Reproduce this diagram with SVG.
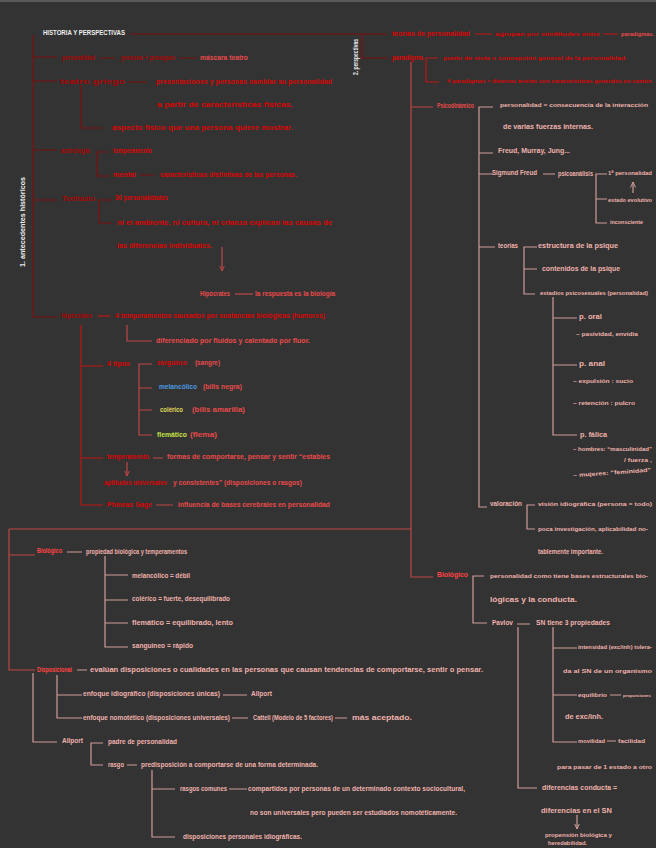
<svg xmlns="http://www.w3.org/2000/svg" width="656" height="848" viewBox="0 0 656 848">
<style>
text{font-family:"Liberation Sans",Arial,sans-serif;font-size:7.2px;font-weight:bold}
.wh{fill:#eeeeee;font-size:6.6px}
.dr{fill:#a80606}
.br{fill:#d80606}
.lr{fill:#e84a4a}
.pk{fill:#f0b2ac}
.bl{fill:#4c9be0}
.ye{fill:#e0dc5a}
.gr{fill:#c8e048}
.hd{fill:#ff4444;font-size:8px}
.sm{font-size:5.6px}
.xs{font-size:4.4px}
.c line,.c path{fill:none;stroke-width:1.2}
.ld{stroke:#7d0f0f}
.lb{stroke:#c01414}
.lm{stroke:#c04646}
.lp{stroke:#d09c98}
</style>
<defs>
<marker id="ad" viewBox="0 0 6 6" refX="5.5" refY="3" markerWidth="5" markerHeight="5" orient="auto"><path d="M0,0.5 L5.5,3 L0,5.5" fill="none" stroke="context-stroke" stroke-width="1"/></marker>
</defs>
<rect x="0" y="0" width="656" height="848" fill="#333333"/>
<rect x="0" y="0" width="656" height="2" fill="#5a5a5a"/>

<g id="connectors" class="c">
  <path class="ld" d="M130,34 H387 M362,34 V58 H388"/>
  <path class="ld" d="M33,35 V317 H57 M33,57 H57 M33,81 H57 M33,150 H57 M33,200 H57"/>
  <path class="ld" d="M100,58 H115 M179,58 H197 M128,82 H147 M81,85 V128 H103"/>
  <path class="ld" d="M108,152 H97 V176 H110 M140,175 H154"/>
  <path class="ld" d="M112,200 H99 V223 H112"/>
  <line class="lm" x1="222" y1="247" x2="222" y2="271" marker-end="url(#ad)"/>
  <path class="lm" d="M235,294 H253"/>
  <path class="lb" d="M98,316 H110"/>
  <path class="lm" d="M127,325 V341 H152"/>
  <path class="lb" d="M81,325 V505 H103 M81,366 H103 M81,458 H103"/>
  <path class="lm" d="M152,364 H139 V435 H152 M139,388 H152 M139,410 H152"/>
  <path class="lm" d="M153,458 H163 M156,505 H173"/>
  <line class="lm" x1="127" y1="462" x2="127" y2="476" marker-end="url(#ad)"/>
  <path class="lb" d="M475,34 H492 M603,34 H618"/>
  <path class="lb" d="M438,58 H426 V82 H439"/>
  <path class="lm" d="M411,62 V577 H433 M411,107 H433 M9,529 H411"/>
  <path class="lp" d="M493,107 H479 V507 H487 M479,153 H493 M479,174 H493 M479,247 H495"/>
  <path class="lp" d="M543,174 H555 M607,174 H596 V223 H607 M596,199 H607"/>
  <line class="lp" x1="633" y1="193" x2="633" y2="182" marker-end="url(#ad)"/>
  <path class="lp" d="M537,247 H524 V294 H535 M524,269 H537"/>
  <path class="lp" d="M553,297 V435 H577 M553,318 H577 M553,365 H577"/>
  <path class="lp" d="M535,505 H527 V529 H535"/>
  <path class="lp" d="M484,576 H473 V623 H487 M517,624 H530"/>
  <path class="lp" d="M518,627 V788 H537"/>
  <path class="lp" d="M553,627 V742 H577 M553,648 H577 M553,695 H577 M610,695 H621 M607,741 H616"/>
  <line class="lp" x1="577" y1="815" x2="577" y2="829" marker-end="url(#ad)"/>
  <path class="lm" d="M9,529 V670 H35 M9,555 H35"/>
  <path class="lp" d="M67,552 H82 M105,556 V647 H128 M105,575 H128 M105,600 H128 M105,623 H128"/>
  <path class="lp" d="M77,670 H87 M57,675 V718 H82 M57,695 H82 M223,695 H247 M232,718 H248 M335,718 H347"/>
  <path class="lp" d="M33,673 V742 H57 M103,743 H91 V765 H103 M127,765 H137"/>
  <path class="lp" d="M152,770 V837 H175 M152,789 H175 M229,789 H247"/>
</g>

<g id="title">
  <text class="wh" x="43" y="34.5" textLength="82" lengthAdjust="spacingAndGlyphs">HISTORIA Y PERSPECTIVAS</text>
  <text class="wh" transform="translate(24.5,222) rotate(-90)" x="-45" y="0" textLength="90" lengthAdjust="spacingAndGlyphs">1. antecedentes históricos</text>
  <text class="wh" transform="translate(357.5,57) rotate(-90)" x="-18" y="0" textLength="36" lengthAdjust="spacingAndGlyphs">2. perspectivas</text>
</g>

<g id="personalidad">
  <text class="dr" x="62" y="59.5" textLength="33" lengthAdjust="spacingAndGlyphs">personalidad</text>
  <text class="dr" x="121" y="59.5" textLength="54" lengthAdjust="spacingAndGlyphs">persona + prosopon</text>
  <text class="lr" x="200" y="59.5" textLength="48" lengthAdjust="spacingAndGlyphs">máscara teatro</text>
</g>

<g id="teatro">
  <text class="dr" x="60" y="83.5" textLength="65" lengthAdjust="spacingAndGlyphs">teatro griego</text>
  <text class="br" x="156" y="83.5" textLength="176" lengthAdjust="spacingAndGlyphs">presentaciones y personas cambiar su personalidad</text>
  <text class="br" x="157" y="106.5" textLength="136" lengthAdjust="spacingAndGlyphs">a partir de características físicas.</text>
  <text class="br" x="112" y="129.5" textLength="181" lengthAdjust="spacingAndGlyphs">aspecto físico que una persona quiere mostrar.</text>
</g>

<g id="astrologia">
  <text class="dr" x="61" y="152.5" textLength="29" lengthAdjust="spacingAndGlyphs">astrología</text>
  <text class="br" x="113" y="152.5" textLength="39" lengthAdjust="spacingAndGlyphs">temperamento</text>
  <text class="br" x="113" y="176.5" textLength="23" lengthAdjust="spacingAndGlyphs">mental</text>
  <text class="br" x="160" y="176.5" textLength="137" lengthAdjust="spacingAndGlyphs">características distintivas de las personas.</text>
</g>

<g id="teofrasto">
  <text class="dr" x="62" y="200.5" textLength="33" lengthAdjust="spacingAndGlyphs">Teofrasto</text>
  <text class="br" x="115" y="199.5" textLength="53" lengthAdjust="spacingAndGlyphs">30 personalidades</text>
  <text class="br" x="117" y="224.5" textLength="215" lengthAdjust="spacingAndGlyphs">ni el ambiente, ni cultura, ni crianza explican las causas de</text>
  <text class="br" x="117" y="247.5" textLength="95" lengthAdjust="spacingAndGlyphs">las diferencias individuales.</text>
  <text class="lr" x="200" y="295.5" textLength="30" lengthAdjust="spacingAndGlyphs">Hipócrates</text>
  <text class="lr" x="255" y="295.5" textLength="80" lengthAdjust="spacingAndGlyphs">la respuesta es la biología</text>
</g>

<g id="hipocrates">
  <text class="dr" x="61" y="317.5" textLength="31" lengthAdjust="spacingAndGlyphs">Hipócrates</text>
  <text class="br" x="115" y="317.5" textLength="210" lengthAdjust="spacingAndGlyphs">4 temperamentos causados por sustancias biológicas (humores)</text>
  <text class="lr" x="156" y="342.5" textLength="154" lengthAdjust="spacingAndGlyphs">diferenciado por fluidos y calentado por fluor.</text>
  <text class="br" x="107" y="365.5" textLength="23" lengthAdjust="spacingAndGlyphs">4 tipos</text>
  <text class="br" x="157" y="364.5" textLength="30" lengthAdjust="spacingAndGlyphs">sanguíneo</text>
  <text class="lr" x="195" y="364.5" textLength="25" lengthAdjust="spacingAndGlyphs">(sangre)</text>
  <text class="bl" x="159" y="388.5" textLength="38" lengthAdjust="spacingAndGlyphs">melancólico</text>
  <text class="lr" x="203" y="388.5" textLength="39" lengthAdjust="spacingAndGlyphs">(bilis negra)</text>
  <text class="ye" x="160" y="411.5" textLength="23" lengthAdjust="spacingAndGlyphs">colérico</text>
  <text class="lr" x="192" y="411.5" textLength="53" lengthAdjust="spacingAndGlyphs">(bilis amarilla)</text>
  <text class="gr" x="157" y="436.5" textLength="30" lengthAdjust="spacingAndGlyphs">flemático</text>
  <text class="lr" x="190" y="436.5" textLength="27" lengthAdjust="spacingAndGlyphs">(flema)</text>
  <text class="br" x="107" y="458.5" textLength="42" lengthAdjust="spacingAndGlyphs">temperamento</text>
  <text class="lr" x="167" y="458.5" textLength="163" lengthAdjust="spacingAndGlyphs">formas de comportarse, pensar y sentir “estables</text>
  <text class="br" x="104" y="484.5" textLength="63" lengthAdjust="spacingAndGlyphs">aptitudes universales</text>
  <text class="lr" x="173" y="484.5" textLength="129" lengthAdjust="spacingAndGlyphs">y consistentes” (disposiciones o rasgos)</text>
  <text class="br" x="107" y="506.5" textLength="45" lengthAdjust="spacingAndGlyphs">Phineas Gage</text>
  <text class="lr" x="178" y="506.5" textLength="152" lengthAdjust="spacingAndGlyphs">influencia de bases cerebrales en personalidad</text>
</g>

<g id="teorias">
  <text class="br" x="392" y="35.5" textLength="78" lengthAdjust="spacingAndGlyphs">teorías de personalidad</text>
  <text class="br sm" x="495" y="35.5" textLength="105" lengthAdjust="spacingAndGlyphs">agrupan por similitudes entre</text>
  <text class="lr sm" x="621" y="35.5" textLength="33" lengthAdjust="spacingAndGlyphs">paradigmas.</text>
  <text class="br" x="392" y="59.5" textLength="31" lengthAdjust="spacingAndGlyphs">paradigma</text>
  <text class="br sm" x="443" y="59.5" textLength="184" lengthAdjust="spacingAndGlyphs">punto de vista o concepción general de la personalidad.</text>
  <text class="br sm" x="447" y="82.5" textLength="206" lengthAdjust="spacingAndGlyphs">4 paradigmas = diversas teorías con características generales en común.</text>
</g>

<g id="psicodinamico">
  <text class="lr" x="437" y="107.5" textLength="37" lengthAdjust="spacingAndGlyphs">Psicodinámico</text>
  <text class="pk sm" x="500" y="106.5" textLength="148" lengthAdjust="spacingAndGlyphs">personalidad = consecuencia de la interacción</text>
  <text class="pk" x="503" y="128.5" textLength="90" lengthAdjust="spacingAndGlyphs">de varias fuerzas internas.</text>
  <text class="pk" x="498" y="152.5" textLength="72" lengthAdjust="spacingAndGlyphs">Freud, Murray, Jung...</text>
  <text class="pk" x="492" y="174.5" textLength="45" lengthAdjust="spacingAndGlyphs">Sigmund Freud</text>
  <text class="pk" x="558" y="175.5" textLength="35" lengthAdjust="spacingAndGlyphs">psicoanálisis</text>
  <text class="pk sm" x="608" y="174.5" textLength="44" lengthAdjust="spacingAndGlyphs">1ª personalidad</text>
  <text class="pk sm" x="608" y="201.5" textLength="44" lengthAdjust="spacingAndGlyphs">estado evolutivo</text>
  <text class="pk sm" x="610" y="223.5" textLength="33" lengthAdjust="spacingAndGlyphs">inconsciente</text>
  <text class="pk" x="498" y="247.5" textLength="20" lengthAdjust="spacingAndGlyphs">teorías</text>
  <text class="pk" x="538" y="247.5" textLength="80" lengthAdjust="spacingAndGlyphs">estructura de la psique</text>
  <text class="pk" x="542" y="270.5" textLength="78" lengthAdjust="spacingAndGlyphs">contenidos de la psique</text>
  <text class="pk sm" x="540" y="294.5" textLength="108" lengthAdjust="spacingAndGlyphs">estadios psicosexuales (personalidad)</text>
  <text class="pk" x="579" y="318.5" textLength="23" lengthAdjust="spacingAndGlyphs">p. oral</text>
  <text class="pk sm" x="576" y="335.5" textLength="62" lengthAdjust="spacingAndGlyphs">– pasividad, envidia</text>
  <text class="pk" x="579" y="365.5" textLength="26" lengthAdjust="spacingAndGlyphs">p. anal</text>
  <text class="pk sm" x="573" y="382.5" textLength="60" lengthAdjust="spacingAndGlyphs">– expulsión : sucio</text>
  <text class="pk sm" x="573" y="404.5" textLength="62" lengthAdjust="spacingAndGlyphs">– retención : pulcro</text>
  <text class="pk" x="580" y="436.5" textLength="27" lengthAdjust="spacingAndGlyphs">p. fálica</text>
  <text class="pk sm" x="573" y="450.5" textLength="79" lengthAdjust="spacingAndGlyphs">– hombres: “masculinidad”</text>
  <text class="pk sm" x="624" y="461.5" textLength="28" lengthAdjust="spacingAndGlyphs">/ fuerza ,</text>
  <text class="pk sm" x="573" y="474.5" textLength="78" lengthAdjust="spacingAndGlyphs" transform="rotate(-4 612 472)">– mujeres: “feminidad”</text>
  <text class="pk" x="490" y="505.5" textLength="32" lengthAdjust="spacingAndGlyphs">valoración</text>
  <text class="pk sm" x="538" y="505.5" textLength="114" lengthAdjust="spacingAndGlyphs">visión idiográfica (persona = todo)</text>
  <text class="pk sm" x="538" y="530.5" textLength="110" lengthAdjust="spacingAndGlyphs">poca investigación, aplicabilidad no-</text>
  <text class="pk" x="538" y="553.5" textLength="65" lengthAdjust="spacingAndGlyphs">tablemente importante.</text>
</g>

<g id="biologico-right">
  <text class="hd" x="437" y="577" textLength="31" lengthAdjust="spacingAndGlyphs">Biológico</text>
  <text class="pk sm" x="490" y="577.5" textLength="158" lengthAdjust="spacingAndGlyphs">personalidad como tiene bases estructurales bio-</text>
  <text class="pk" x="490" y="601.5" textLength="87" lengthAdjust="spacingAndGlyphs">lógicas y la conducta.</text>
  <text class="pk" x="492" y="624.5" textLength="21" lengthAdjust="spacingAndGlyphs">Pavlov</text>
  <text class="pk" x="536" y="624.5" textLength="74" lengthAdjust="spacingAndGlyphs">SN tiene 3 propiedades</text>
  <text class="pk sm" x="578" y="648.5" textLength="74" lengthAdjust="spacingAndGlyphs">intensidad (exc/inh) tolera-</text>
  <text class="pk sm" x="563" y="672.5" textLength="89" lengthAdjust="spacingAndGlyphs">da al SN de un organismo</text>
  <text class="pk sm" x="578" y="696.5" textLength="29" lengthAdjust="spacingAndGlyphs">equilibrio</text>
  <text class="pk xs" x="623" y="696.5" textLength="28" lengthAdjust="spacingAndGlyphs">proporciones</text>
  <text class="pk" x="565" y="718.5" textLength="38" lengthAdjust="spacingAndGlyphs">de exc/inh.</text>
  <text class="pk sm" x="578" y="742.5" textLength="27" lengthAdjust="spacingAndGlyphs">movilidad</text>
  <text class="pk sm" x="618" y="742.5" textLength="27" lengthAdjust="spacingAndGlyphs">facilidad</text>
  <text class="pk sm" x="557" y="768.5" textLength="95" lengthAdjust="spacingAndGlyphs">para pasar de 1 estado a otro</text>
  <text class="pk" x="542" y="789.5" textLength="75" lengthAdjust="spacingAndGlyphs">diferencias conducta =</text>
  <text class="pk" x="541" y="812.5" textLength="71" lengthAdjust="spacingAndGlyphs">diferencias en el SN</text>
  <text class="pk sm" x="545" y="836.5" textLength="67" lengthAdjust="spacingAndGlyphs">propensión biológica y</text>
  <text class="pk sm" x="548" y="845" textLength="39" lengthAdjust="spacingAndGlyphs">heredabilidad.</text>
</g>

<g id="biologico-left">
  <text class="hd" x="37" y="553" textLength="25" lengthAdjust="spacingAndGlyphs">Biológico</text>
  <text class="pk" x="86" y="553.5" textLength="101" lengthAdjust="spacingAndGlyphs">propiedad biológica y temperamentos</text>
  <text class="pk" x="132" y="577.5" textLength="58" lengthAdjust="spacingAndGlyphs">melancólico = débil</text>
  <text class="pk" x="132" y="600.5" textLength="98" lengthAdjust="spacingAndGlyphs">colérico = fuerte, desequilibrado</text>
  <text class="pk" x="132" y="624.5" textLength="101" lengthAdjust="spacingAndGlyphs">flemático = equilibrado, lento</text>
  <text class="pk" x="132" y="647.5" textLength="61" lengthAdjust="spacingAndGlyphs">sanguíneo = rápido</text>
</g>

<g id="disposicional">
  <text class="hd" x="37" y="672" textLength="35" lengthAdjust="spacingAndGlyphs">Disposicional</text>
  <text class="pk" x="90" y="671.5" textLength="393" lengthAdjust="spacingAndGlyphs">evalúan disposiciones o cualidades en las personas que causan tendencias de comportarse, sentir o pensar.</text>
  <text class="pk" x="83" y="695.5" textLength="137" lengthAdjust="spacingAndGlyphs">enfoque idiográfico (disposiciones únicas)</text>
  <text class="pk" x="251" y="695.5" textLength="21" lengthAdjust="spacingAndGlyphs">Allport</text>
  <text class="pk" x="83" y="719.5" textLength="147" lengthAdjust="spacingAndGlyphs">enfoque nomotético (disposiciones universales)</text>
  <text class="pk" x="253" y="719.5" textLength="80" lengthAdjust="spacingAndGlyphs">Cattell (Modelo de 5 factores)</text>
  <text class="pk" x="352" y="719.5" textLength="60" lengthAdjust="spacingAndGlyphs">más aceptado.</text>
</g>

<g id="allport">
  <text class="pk" x="62" y="742.5" textLength="21" lengthAdjust="spacingAndGlyphs">Allport</text>
  <text class="pk" x="108" y="743.5" textLength="69" lengthAdjust="spacingAndGlyphs">padre de personalidad</text>
  <text class="pk" x="108" y="766.5" textLength="16" lengthAdjust="spacingAndGlyphs">rasgo</text>
  <text class="pk" x="141" y="766.5" textLength="177" lengthAdjust="spacingAndGlyphs">predisposición a comportarse de una forma determinada.</text>
  <text class="pk" x="180" y="790.5" textLength="47" lengthAdjust="spacingAndGlyphs">rasgos comunes</text>
  <text class="pk" x="248" y="790.5" textLength="217" lengthAdjust="spacingAndGlyphs">compartidos por personas de un determinado contexto sociocultural,</text>
  <text class="pk" x="250" y="814.5" textLength="207" lengthAdjust="spacingAndGlyphs">no son universales pero pueden ser estudiados nomotéticamente.</text>
  <text class="pk" x="183" y="838.5" textLength="119" lengthAdjust="spacingAndGlyphs">disposiciones personales idiográficas.</text>
</g>
</svg>
